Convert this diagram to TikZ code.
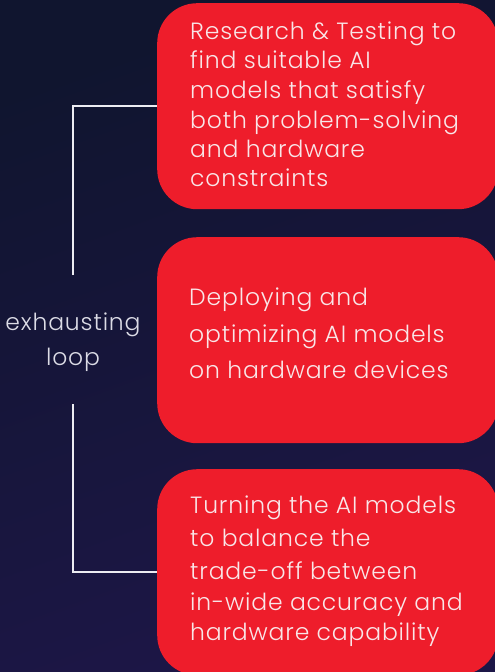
\documentclass[tikz,border=0pt]{standalone}
\usepackage{fontspec}
\setmainfont{Poppins Light}[LetterSpace=3.6]
\definecolor{bgtop}{HTML}{10152F}
\definecolor{bgbot}{HTML}{1D1647}
\definecolor{boxred}{HTML}{EE1D2B}
\definecolor{boxtxt}{HTML}{F9E6E8}
\definecolor{looptxt}{HTML}{DCDCE6}
\definecolor{linecol}{HTML}{ECECF2}
\tikzset{
  redbox/.style={fill=boxred, rounded corners=40pt, minimum width=341pt, minimum height=206pt, anchor=north west, inner sep=0pt, draw=none},
  boxline/.style={anchor=base west, inner sep=0pt, text=boxtxt, font=\fontsize{23.5}{28}\selectfont},
  looplabel/.style={anchor=base, inner sep=0pt, text=looptxt, font=\fontsize{23.5}{28}\selectfont},
  bracket/.style={draw=linecol, line width=1.7pt}
}
\begin{document}
\begin{tikzpicture}[x=1pt,y=-1pt]
\useasboundingbox (0,0) rectangle (495,672);
\clip (0,0) rectangle (495,672);
\shade[top color=bgtop, bottom color=bgbot, shading angle=20] (0,0) rectangle (495,672);
% boxes
\node[redbox] (b1) at (157,3) {};
\node[redbox] (b2) at (157,237) {};
\node[redbox] (b3) at (157,469) {};
% box 1 text
\node[boxline] (t1a) at (190,39) {Research \& Testing to};
\node[boxline] (t1b) at (190,68) {find suitable AI};
\node[boxline] (t1c) at (190,98) {models that satisfy};
\node[boxline] (t1d) at (190,128) {both problem-solving};
\node[boxline] (t1e) at (190,157) {and hardware};
\node[boxline] (t1f) at (190,186) {constraints};
% box 2 text
\node[boxline] (t2a) at (189,305) {Deploying and};
\node[boxline] (t2b) at (189,342) {optimizing AI models};
\node[boxline] (t2c) at (189,378) {on hardware devices};
% box 3 text
\node[boxline] (t3a) at (190,513) {Turning the AI models};
\node[boxline] (t3b) at (190,546) {to balance the};
\node[boxline] (t3c) at (190,579) {trade-off between};
\node[boxline] (t3d) at (190,610) {in-wide accuracy and};
\node[boxline] (t3e) at (190,640) {hardware capability};
% loop label
\node[looplabel] (l1) at (73,330) {exhausting};
\node[looplabel] (l2) at (73,365) {loop};
% bracket
\coordinate (c1) at (73,275);
\coordinate (c2) at (73,404);
\draw[bracket] (c1) |- (b1.west);
\draw[bracket] (c2) |- (b3.west);
\end{tikzpicture}
\end{document}
